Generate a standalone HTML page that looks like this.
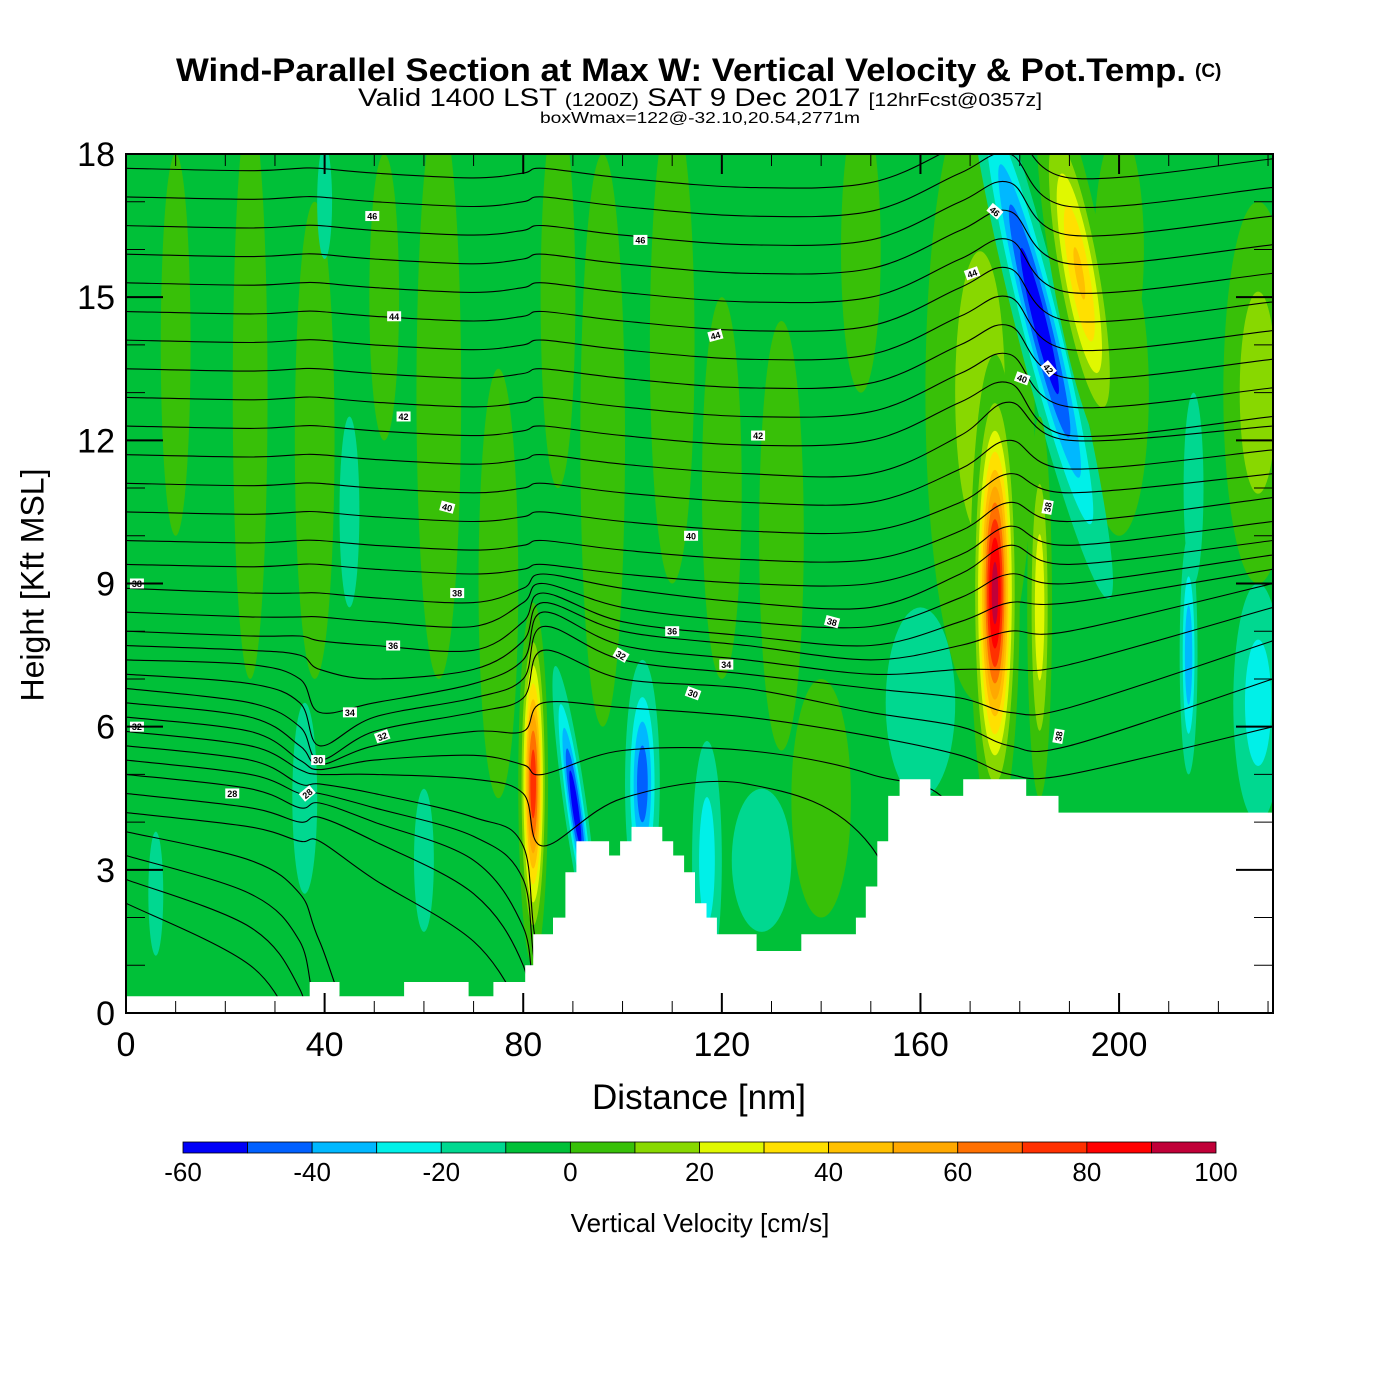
<!DOCTYPE html>
<html><head><meta charset="utf-8"><style>
html,body{margin:0;padding:0;background:#fff;}
svg{display:block;font-family:"Liberation Sans",Arial,sans-serif;}
</style></head><body>
<svg id="chart" width="1400" height="1400" viewBox="0 0 1400 1400" xmlns="http://www.w3.org/2000/svg">
<rect x="0" y="0" width="1400" height="1400" fill="#fff"/>
<text x="176" y="81" font-size="32" font-weight="bold" textLength="1010" lengthAdjust="spacingAndGlyphs">Wind-Parallel Section at Max W: Vertical Velocity &amp; Pot.Temp.</text>
<text x="1195" y="77" font-size="19" font-weight="bold">(C)</text>
<text x="358" y="106" font-size="25" textLength="684" lengthAdjust="spacingAndGlyphs">Valid 1400 LST <tspan font-size="18">(1200Z)</tspan> SAT 9 Dec 2017 <tspan font-size="18">[12hrFcst@0357z]</tspan></text>
<text x="540" y="123" font-size="16" textLength="320" lengthAdjust="spacingAndGlyphs">boxWmax=122@-32.10,20.54,2771m</text>
<defs><clipPath id="plotclip"><rect x="126" y="154" width="1147" height="859"/></clipPath></defs>
<rect x="126" y="154" width="1147" height="859" fill="#00c038"/>
<g id="fill" clip-path="url(#plotclip)"></g>
<g id="contours" clip-path="url(#plotclip)"></g>
<g id="terrain" clip-path="url(#plotclip)"></g>
<g id="labels"></g>
<g id="axes"></g>
<rect x="126" y="154" width="1147" height="859" fill="none" stroke="#000" stroke-width="2"/>
<text x="35" y="585" transform="rotate(-90 35 585)" text-anchor="middle" dominant-baseline="middle" font-size="32">Height [Kft MSL]</text>
<text x="699" y="1109" text-anchor="middle" font-size="35">Distance [nm]</text>
<g id="cbar"></g>
<text x="700" y="1232" text-anchor="middle" font-size="26">Vertical Velocity [cm/s]</text>
</svg>
<script>
// ---- data ----
const xTicks = [0,40,80,120,160,200];
const yTicks = [0,3,6,9,12,15,18];
const cbarEdges = [-60,-50,-40,-30,-20,-10,0,10,20,30,40,50,60,70,80,90,100];
const cbarLabels = [-60,-40,-20,0,20,40,60,80,100];
const cbarColors = ["#0000f8","#0060ff","#00b8ff","#00f0e8","#00d890","#00c038","#38c008","#88d800","#e0f800","#ffe000","#ffc000","#ffa800","#ff7000","#ff3000","#ff0000","#c00038"];
// terrain step function: distance breakpoints (nm) and height (kft)
const terrX = [0,37,43,56,69,74,80.4,82,86,88.5,90.7,97.3,99.5,101.8,108,110.2,112.4,114.6,116.9,119,127,136,147,149,151.3,153.5,155.8,162,168.6,181.3,187.8,231];
const terrH = [0.35,0.65,0.35,0.65,0.35,0.65,1.0,1.65,2.0,2.95,3.6,3.3,3.6,3.9,3.6,3.3,2.95,2.3,2.0,1.65,1.3,1.65,2.0,2.65,3.6,4.55,4.9,4.55,4.9,4.55,4.2,4.2];
// velocity features: center nm, center kft, half-width nm, half-height kft, peak cm/s, tilt deg
const featX = [25,63,75,87,96,110,132,140,172,228,10,52,148,200,38,120,200,160,128,45,40,6,36,60,215,228,214,117,104,90.5,184,184,192,82,175];
const featY = [13,13,9,15,12,14,10,4.5,13,13,14,15,16,16,12,11,13,6.5,3.2,10.5,17,2.5,4.5,3.2,11,6.5,7.5,3.2,4.8,4.3,14.5,8.5,15.5,4.8,8.8];
const featW = [3.5,4.5,4,3.5,4.5,4.5,4.5,6,11,7,3,3,4,5,4,4,6,7,6,2,1.5,1.5,2.5,2,2,5,1.8,3,3.5,2.3,5,2.5,5.5,3,5];
const featH = [6,6,4.5,4,6,5,4.5,2.5,6.5,4,4,3,3,2.5,5,4,3,2,1.5,2,1.2,1.3,2,1.5,2,2.5,2.5,2.5,2.6,3,6,4,4,3.8,5];
const featV = [8,8,8,8,8,8,8,8,15,18,8,8,8,8,8,8,8,-16,-15,-15,-15,-15,-20,-16,-15,-28,-40,-28,-48,-58,-58,28,42,78,95];
const featRot = [0,0,0,0,0,0,0,0,0,0,0,0,0,0,0,0,0,0,0,0,0,0,0,0,0,0,0,0,0,-8,-14,0,-10,0,0];
// potential temperature contours: heights (kft) at stations
const thStations = [0,25,35,39,50,70,80,84,100,125,150,168,178,190,231];
const thLines = [
[2.3,1.0,-0.5,-1,-1,-1,-1,-1,-1,-1,-1,-1,-1,-1,-1],
[2.8,1.8,0.5,-1,-1,-1,-1,-1,-1,-1,-1,-1,-1,-1,-1],
[3.3,2.5,1.5,0,-1,-1,-1,-1,-1,-1,-1,-1,-1,-1,-1],
[3.8,3.2,2.5,1.5,-1,-1,-1,-1,-1,-1,-1,-1,-1,-1,-1],
[4.2,3.9,3.6,3.6,2.8,1.5,0,-1,-1,-1,-1,-1,-1,-1,-1],
[4.6,4.3,4.0,4.1,3.6,2.5,1.0,-1,-1,-1,-1,-1,-1,-1,-1],
[5.0,4.7,4.3,4.4,4.0,3.2,1.8,0,-1,-1,-1,-1,-1,-1,-1],
[5.3,5.0,4.6,4.6,4.3,3.7,2.8,0.5,-1,-1,-1,-1,-1,-1,-1],
[5.6,5.3,4.8,4.8,4.6,4.1,3.5,1.0,-1,-1,-1,-1,-1,-1,-1],
[5.9,5.6,5.1,5.0,5.0,4.9,4.6,3.5,4.5,4.8,3.5,-1,-1,-1,-1],
[6.2,5.9,5.3,5.1,5.3,5.4,5.2,5.0,5.5,5.5,5.0,4.0,-1,-1,-1],
[6.5,6.2,5.6,5.2,5.6,5.9,5.9,6.5,6.4,6.2,5.8,5.4,5.0,5.0,6.0],
[6.8,6.5,6.0,5.3,5.9,6.3,6.6,7.6,7.0,6.8,6.3,6.0,5.6,5.6,7.0],
[7.1,6.9,6.5,5.6,6.2,6.6,7.0,8.1,7.4,7.1,6.8,6.6,6.3,6.4,7.8],
[7.4,7.3,7.0,6.3,6.5,6.9,7.4,8.4,7.7,7.4,7.1,7.2,7.2,7.3,8.5],
[7.7,7.6,7.5,7.2,7.0,7.2,7.8,8.6,8.0,7.7,7.4,7.7,8.0,8.0,9.0],
[8.0,7.9,7.9,7.8,7.7,7.6,8.2,8.8,8.2,7.9,7.7,8.2,8.6,8.6,9.3],
[8.4,8.3,8.3,8.3,8.2,8.1,8.6,9.0,8.5,8.2,8.1,8.7,9.2,9.0,9.6],
[8.9,8.8,8.8,8.8,8.7,8.6,8.9,9.2,8.9,8.6,8.5,9.2,9.8,9.4,9.9],
[9.4,9.35,9.4,9.4,9.3,9.2,9.3,9.4,9.2,9.0,9.0,9.6,10.2,9.8,10.3],
[9.9,9.85,9.9,9.9,9.8,9.7,9.8,9.9,9.7,9.5,9.5,10.1,10.7,10.3,10.8],
[10.5,10.45,10.5,10.5,10.4,10.3,10.4,10.5,10.3,10.1,10.1,10.7,11.3,10.9,11.3],
[11.1,11.05,11.1,11.1,11.0,10.9,11.0,11.1,10.9,10.7,10.7,11.4,12.0,11.4,11.8],
[11.7,11.65,11.7,11.7,11.6,11.5,11.6,11.7,11.5,11.3,11.3,12.1,12.8,12.0,12.3],
[12.3,12.25,12.3,12.3,12.2,12.1,12.2,12.3,12.1,11.9,12.0,12.8,13.2,12.1,12.5],
[12.9,12.85,12.9,12.9,12.8,12.7,12.8,12.9,12.7,12.5,12.6,13.4,13.8,12.7,13.1],
[13.5,13.45,13.5,13.5,13.4,13.3,13.4,13.5,13.3,13.1,13.2,14.0,14.4,13.3,13.7],
[14.1,14.05,14.1,14.1,14.0,13.9,14.0,14.1,13.9,13.7,13.8,14.6,15.0,13.9,14.3],
[14.7,14.65,14.7,14.7,14.6,14.5,14.6,14.7,14.5,14.3,14.4,15.2,15.6,14.5,14.9],
[15.3,15.25,15.3,15.3,15.2,15.1,15.2,15.3,15.1,14.9,15.0,15.8,16.2,15.1,15.5],
[15.9,15.85,15.9,15.9,15.8,15.7,15.8,15.9,15.7,15.5,15.6,16.4,16.8,15.7,16.1],
[16.5,16.45,16.5,16.5,16.4,16.3,16.4,16.5,16.3,16.1,16.2,17.0,17.4,16.3,16.7],
[17.1,17.05,17.1,17.1,17.0,16.9,17.0,17.1,16.9,16.7,16.8,17.6,18.0,16.9,17.3],
[17.7,17.65,17.7,17.7,17.6,17.5,17.6,17.7,17.5,17.3,17.4,18.2,18.6,17.5,17.9]
];
// contour labels: text, nm, kft, angle
const lblText = ["46","46","44","44","42","42","40","40","38","38","36","36","34","34","32","32","32","30","30","28","28","38","46","44","40","42","38","38"];
const lblX = [49.6,103.6,54,118.7,55.9,127.3,64.7,113.8,66.7,2.2,53.8,110,45.1,120.9,2.2,51.6,99.7,38.7,114.2,21.4,36.5,142.2,175,170.4,180.5,185.8,185.6,187.8];
const lblY = [16.7,16.2,14.6,14.2,12.5,12.1,10.6,10.0,8.8,9.0,7.7,8.0,6.3,7.3,6.0,5.8,7.5,5.3,6.7,4.6,4.6,8.2,16.8,15.5,13.3,13.5,10.6,5.8];
const lblRot = [0,0,0,-15,0,0,15,0,0,0,0,0,0,0,0,-20,30,0,20,0,-40,15,40,-20,20,50,-80,-80];

// ---- scales ----
const X0=126, X1=1273, Y0=1013, Y1=154, XMAX=231, YMAX=18;
const xs = d => X0 + d*(X1-X0)/XMAX;
const ys = h => Y0 - h*(Y0-Y1)/YMAX;
const pxNm = (X1-X0)/XMAX, pxK = (Y0-Y1)/YMAX;
const NS="http://www.w3.org/2000/svg";
function mk(tag, attrs, parent){const e=document.createElementNS(NS,tag);for(const k in attrs)e.setAttribute(k,attrs[k]);parent.appendChild(e);return e;}
function colorFor(v){let i=Math.floor((v+60)/10);i=Math.max(0,Math.min(15,i));return cbarColors[i];}

// ---- filled velocity features ----
const gFill=document.getElementById('fill');
for(let f=0;f<featX.length;f++){
  const P=featV[f];
  const g=mk('g',{transform:`rotate(${featRot[f]} ${xs(featX[f])} ${ys(featY[f])})`},gFill);
  
  
  const levels=[];
  if(P>0){for(let L=0;L<P;L+=10)levels.push(L);} else {for(let L=-10;L>P;L-=10)levels.push(L);}
  const outer=levels[0];
  const norm=Math.log((P+5)/(outer+5));
  levels.forEach(L=>{
    const r=Math.sqrt(Math.log((P+5)/(L+5))/norm);
    const col=P>0?colorFor(L+5):colorFor(L-5);
    const e=mk('ellipse',{cx:xs(featX[f]),cy:ys(featY[f]),rx:r*featW[f]*pxNm,ry:r*featH[f]*pxK,fill:col},g);
    
    
  });
}

// ---- theta contours ----
const gC=document.getElementById('contours');
thLines.forEach(line=>{
  const pts=[];
  for(let i=0;i<thStations.length;i++)pts.push([xs(thStations[i]),ys(line[i])]);
  let d='M'+pts[0][0].toFixed(1)+','+pts[0][1].toFixed(1);
  for(let i=0;i<pts.length-1;i++){
    const p0=pts[Math.max(0,i-1)],p1=pts[i],p2=pts[i+1],p3=pts[Math.min(pts.length-1,i+2)];
    const c1=[p1[0]+(p2[0]-p0[0])/6,p1[1]+(p2[1]-p0[1])/6];
    const c2=[p2[0]-(p3[0]-p1[0])/6,p2[1]-(p3[1]-p1[1])/6];
    d+=` C${c1[0].toFixed(1)},${c1[1].toFixed(1)} ${c2[0].toFixed(1)},${c2[1].toFixed(1)} ${p2[0].toFixed(1)},${p2[1].toFixed(1)}`;
  }
  const p=mk('path',{d:d,fill:'none',stroke:'#000','stroke-width':1.1},gC);
  
  
});

// ---- terrain ----
const gT=document.getElementById('terrain');
let td=`M${xs(0)},${Y0+5}`;
for(let i=0;i<terrX.length;i++){
  td+=` L${xs(terrX[i]).toFixed(1)},${ys(terrH[i]).toFixed(1)}`;
  const nx=i<terrX.length-1?terrX[i+1]:XMAX;
  td+=` L${xs(nx).toFixed(1)},${ys(terrH[i]).toFixed(1)}`;
}
td+=` L${xs(XMAX)+5},${Y0+5} Z`;
const tp=mk('path',{d:td,fill:'#fff'},gT);



// ---- contour labels ----
const gL=document.getElementById('labels');
for(let i=0;i<lblText.length;i++){
  const cx=xs(lblX[i]),cy=ys(lblY[i]);
  const g=mk('g',{transform:`rotate(${lblRot[i]} ${cx} ${cy})`},gL);
  
  
  mk('rect',{x:cx-7,y:cy-5,width:14,height:10,fill:'#fff'},g);
  const t=mk('text',{x:cx,y:cy+3.5,'text-anchor':'middle','font-size':9,'font-weight':'bold'},g);
  t.textContent=lblText[i];
}

// ---- axes ----
const gA=document.getElementById('axes');
for(let d=0;d<=230;d+=10){
  const major=(d%40===0);const len=major?20:12;const x=xs(d);
  let t=mk('line',{x1:x,y1:Y0,x2:x,y2:Y0-len,stroke:'#000','stroke-width':major?2:1},gA);
  
  t=mk('line',{x1:x,y1:Y1,x2:x,y2:Y1+len,stroke:'#000','stroke-width':major?2:1},gA);
  
}
for(let h=0;h<=18;h++){
  const major=(h%3===0);const len=major?37:19;const y=ys(h);
  let t=mk('line',{x1:X0,y1:y,x2:X0+len,y2:y,stroke:'#000','stroke-width':major?2:1},gA);
  
  t=mk('line',{x1:X1,y1:y,x2:X1-len,y2:y,stroke:'#000','stroke-width':major?2:1},gA);
  
}
xTicks.forEach(v=>{const t=mk('text',{x:xs(v),y:1056,'text-anchor':'middle','font-size':34},gA);t.textContent=v;
  });
yTicks.forEach(v=>{const t=mk('text',{x:115,y:ys(v)+12,'text-anchor':'end','font-size':34},gA);t.textContent=v;
  });

// ---- colorbar ----
const gB=document.getElementById('cbar');
const CB0=183,CB1=1216,CBY=1142,CBH=11;
const cbx=v=>CB0+(v-cbarEdges[0])*(CB1-CB0)/(cbarEdges[cbarEdges.length-1]-cbarEdges[0]);
for(let i=0;i<cbarColors.length;i++){
  const r=mk('rect',{x:cbx(cbarEdges[i]),y:CBY,width:cbx(cbarEdges[i+1])-cbx(cbarEdges[i]),height:CBH,fill:cbarColors[i],stroke:'#000','stroke-width':0.8},gB);
  
}
cbarLabels.forEach(v=>{const t=mk('text',{x:cbx(v),y:1181,'text-anchor':'middle','font-size':26},gB);t.textContent=v;
  });
</script>
</body></html>
